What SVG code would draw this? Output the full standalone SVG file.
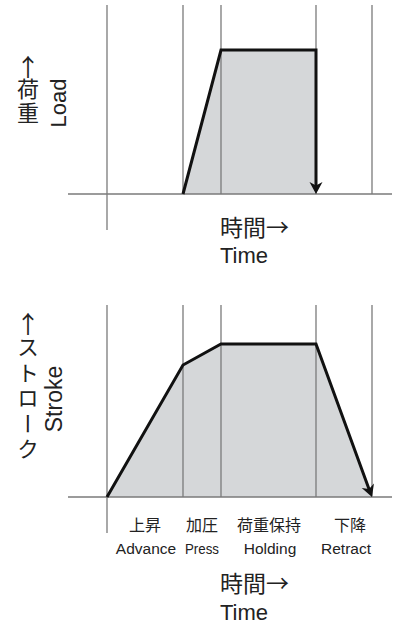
<svg xmlns="http://www.w3.org/2000/svg" width="394" height="625" viewBox="0 0 394 625">
<style>
.bg{fill:#ffffff}
.fill{fill:#d5d7d9;stroke:none}
.thin{stroke:#7a7a7a;stroke-width:1.3;fill:none}
.thick{stroke:#111111;stroke-width:3;fill:none;stroke-linejoin:miter}
.en{font-family:"Liberation Sans",Arial,sans-serif;fill:#222}
.jp{font-family:"Noto Sans CJK JP","Noto Sans CJK SC",sans-serif;fill:#222}
.vert{writing-mode:vertical-rl}
</style>
<defs>
<marker id="ah" markerUnits="userSpaceOnUse" viewBox="-14 -8 16 16" markerWidth="16" markerHeight="16" refX="-6" refY="0" orient="auto">
<path d="M0,0 L-12,-6.5 L-8.5,0 L-12,6.5 Z" fill="#111"/>
</marker>
</defs>
<rect class="bg" x="0" y="0" width="394" height="625"/>

<g id="load-chart">
<polygon class="fill" points="183,194 221,50 316,50 316,194"/>
<g id="load-grid">
<line class="thin" x1="68" y1="194" x2="392" y2="194"/>
<line class="thin" x1="107" y1="5" x2="107" y2="230"/>
<line class="thin" x1="183" y1="5" x2="183" y2="194"/>
<line class="thin" x1="221" y1="5" x2="221" y2="194"/>
<line class="thin" x1="316" y1="5" x2="316" y2="194"/>
<line class="thin" x1="372" y1="5" x2="372" y2="194"/>
</g>
<polyline id="load-curve" class="thick" points="183,194 221,50 316,50 316,188" marker-end="url(#ah)"/>
<text id="load-arrow" class="jp" x="28" y="76" font-size="24" text-anchor="middle">↑</text>
<text id="load-label-jp" class="jp vert" x="28" y="78" font-size="22" letter-spacing="2">荷重</text>
<text id="load-label-en" class="en" font-size="22" text-anchor="middle" transform="translate(66,103) rotate(-90)">Load</text>
<text id="time-label-jp-1" class="jp" x="220" y="236" font-size="23">時間→</text>
<text id="time-label-en-1" class="en" x="244" y="263" font-size="22" text-anchor="middle">Time</text>
</g>

<g id="stroke-chart">
<polygon class="fill" points="107,497 183,365 221,344 316,344 372,497"/>
<g id="stroke-grid">
<line class="thin" x1="68" y1="497" x2="392" y2="497"/>
<line class="thin" x1="107" y1="305" x2="107" y2="533"/>
<line class="thin" x1="183" y1="305" x2="183" y2="497"/>
<line class="thin" x1="221" y1="305" x2="221" y2="497"/>
<line class="thin" x1="316" y1="305" x2="316" y2="497"/>
<line class="thin" x1="372" y1="305" x2="372" y2="497"/>
</g>
<polyline id="stroke-curve" class="thick" points="107,497 183,365 221,344 316,344 369.9,491.4" marker-end="url(#ah)"/>
<text id="stroke-arrow" class="jp" x="28" y="333" font-size="24" text-anchor="middle">↑</text>
<text id="stroke-label-jp" class="jp vert" x="28" y="336" font-size="22" letter-spacing="3.5">ストローク</text>
<text id="stroke-label-en" class="en" font-size="23" text-anchor="middle" transform="translate(62,399) rotate(-90)">Stroke</text>

<g id="phase-advance">
<text class="jp" x="145" y="531" font-size="16" text-anchor="middle">上昇</text>
<text class="en" x="146" y="554" font-size="15.5" text-anchor="middle">Advance</text>
</g>
<g id="phase-press">
<text class="jp" x="202" y="531" font-size="16" text-anchor="middle">加圧</text>
<text class="en" x="202" y="554" font-size="15.5" text-anchor="middle" textLength="34" lengthAdjust="spacingAndGlyphs">Press</text>
</g>
<g id="phase-holding">
<text class="jp" x="269" y="531" font-size="16" text-anchor="middle">荷重保持</text>
<text class="en" x="270" y="554" font-size="15.5" text-anchor="middle">Holding</text>
</g>
<g id="phase-retract">
<text class="jp" x="350" y="531" font-size="16" text-anchor="middle">下降</text>
<text class="en" x="346" y="554" font-size="15.5" text-anchor="middle">Retract</text>
</g>
<text id="time-label-jp-2" class="jp" x="220" y="592" font-size="23">時間→</text>
<text id="time-label-en-2" class="en" x="244" y="620" font-size="22" text-anchor="middle">Time</text>
</g>
</svg>
